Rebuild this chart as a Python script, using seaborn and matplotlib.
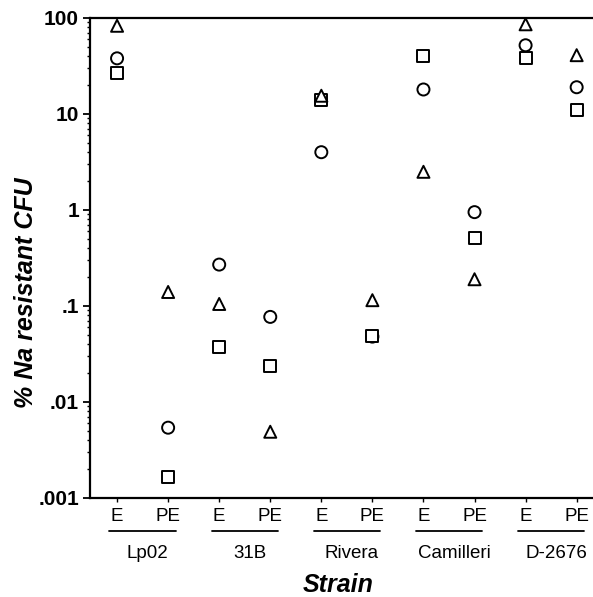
import matplotlib
matplotlib.use('Agg')
import matplotlib.pyplot as plt
import matplotlib.ticker as mticker
import matplotlib.transforms as mtransforms
import numpy as np
import pandas as pd
import seaborn as sns

sns.set_style('ticks')
plt.rcParams['font.family'] = ['Liberation Sans', 'DejaVu Sans']
plt.rcParams['text.color'] = 'black'
plt.rcParams['xtick.color'] = 'black'
plt.rcParams['ytick.color'] = 'black'

# data
strains = ['Lp02', '31B', 'Rivera', 'Camilleri', 'D-2676']
conditions = ['E', 'PE']
circle_vals = [38, 0.0054, 0.27, 0.077, 4.0, 0.048, 18, 0.95, 52, 19]
square_vals = [27, 0.00166, 0.037, 0.0237, 14, 0.049, 40, 0.51, 38, 11]
triangle_vals = [83, 0.14, 0.105, 0.0049, 15.5, 0.115, 2.5, 0.19, 86, 41]

tick_labels = [c for s in strains for c in conditions]
pos = np.arange(len(tick_labels))

df = pd.DataFrame({
    'pos': np.tile(pos, 3),
    'value': circle_vals + square_vals + triangle_vals,
    'series': ['circle'] * 10 + ['square'] * 10 + ['triangle'] * 10,
})

fig = plt.figure(figsize=(5.93, 5.97), dpi=100)
ax = fig.add_axes([90 / 593, 1 - 498 / 597, 1 - 90 / 593, 480 / 597])

sns.scatterplot(data=df, x='pos', y='value', style='series',
                markers={'circle': 'o', 'square': 's', 'triangle': '^'},
                s=75, color='white', edgecolor='black', linewidth=1.4,
                legend=False, ax=ax, zorder=3)

ax.set_yscale('log')
ax.set_ylim(0.001, 100)
ax.set_xlim(-0.53, 9.32)
ax.set_yticks([0.001, 0.01, 0.1, 1, 10, 100])
ax.set_yticklabels(['.001', '.01', '.1', '1', '10', '100'],
                   fontsize=15, fontweight='bold')
ax.yaxis.set_minor_locator(mticker.LogLocator(base=10, subs=np.arange(2, 10)))
ax.yaxis.set_minor_formatter(mticker.NullFormatter())
ax.tick_params(axis='y', which='major', length=5, width=1.3, direction='out', pad=3)
ax.tick_params(axis='y', which='minor', length=2.5, width=1.0, direction='out')

ax.set_xticks(pos)
ax.set_xticklabels(tick_labels, fontsize=13.5)
ax.tick_params(axis='x', length=3, width=1.0, direction='out', pad=4)

for side in ['left', 'bottom', 'top']:
    ax.spines[side].set_linewidth(1.6)
    ax.spines[side].set_color('black')
ax.spines['right'].set_visible(False)

ax.set_xlabel('')
ax.set_ylabel('')

# strain group lines and names below the E/PE labels
trans = mtransforms.blended_transform_factory(ax.transData, ax.transAxes)
for i, s in enumerate(strains):
    x0 = pos[2 * i] - 0.15
    x1 = pos[2 * i + 1] + 0.15
    ax.plot([x0, x1], [-0.069, -0.069], color='black', lw=1.3,
            transform=trans, clip_on=False)
    ax.text((x0 + x1) / 2 + 0.1, -0.115, s, transform=trans,
            ha='center', va='center', fontsize=13.5)

fig.text(26 / 593, 1 - 293 / 597, '% Na resistant CFU', rotation=90,
         ha='center', va='center', fontsize=18, fontweight='bold',
         fontstyle='italic')
fig.text(338 / 593, 1 - 585 / 597, 'Strain', ha='center',
         va='center', fontsize=18, fontweight='bold', fontstyle='italic')

fig.savefig('out.png', dpi=100)
